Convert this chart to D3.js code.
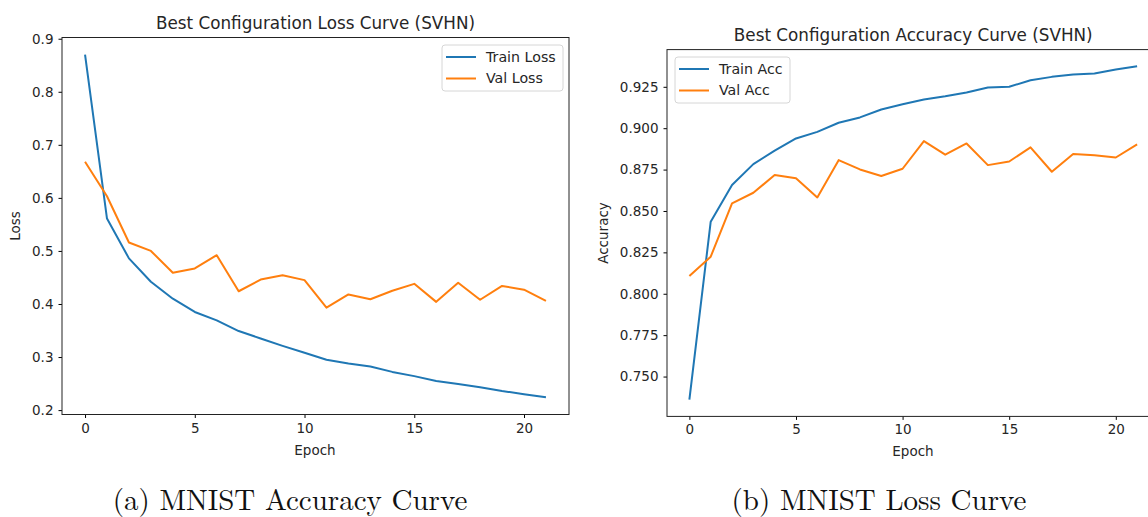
<!DOCTYPE html>
<html lang="en">
<head>
    <meta charset="UTF-8">
    <title>Best Configuration Curves (SVHN)</title>
    <script src="https://cdn.jsdelivr.net/npm/d3@7"></script>
    <style>
        body { margin: 0; background: #fff; }
        svg text { font-family: "DejaVu Sans", sans-serif; fill: #262626; }
        .caption { font-family: "Latin Modern Roman", "DejaVu Serif", "Liberation Serif", serif; fill: #111; }
    </style>
</head>
<body>
    <svg width="1148" height="517" id="mainsvg"></svg>
    <script>
        // data
        const epochs = d3.range(0, 22);
        const trainLoss = [0.870, 0.561, 0.486, 0.442, 0.410, 0.385, 0.369, 0.349, 0.335, 0.321, 0.308,
                           0.295, 0.288, 0.282, 0.272, 0.264, 0.255, 0.249, 0.243, 0.236, 0.230, 0.224];
        const valLoss = [0.668, 0.603, 0.516, 0.500, 0.459, 0.467, 0.492, 0.424, 0.446, 0.454, 0.445,
                         0.393, 0.418, 0.409, 0.425, 0.438, 0.404, 0.440, 0.408, 0.434, 0.427, 0.406];
        const trainAcc = [0.736, 0.8435, 0.8657, 0.8783, 0.8864, 0.8938, 0.8978, 0.9033, 0.9065, 0.9113, 0.9145,
                          0.9173, 0.9193, 0.9216, 0.9246, 0.9250, 0.9290, 0.9310, 0.9324, 0.9330, 0.9354, 0.9374];
        const valAcc = [0.8107, 0.8224, 0.8546, 0.8610, 0.8717, 0.8697, 0.8582, 0.8807, 0.8751, 0.8711, 0.8755,
                        0.8922, 0.8840, 0.8908, 0.8777, 0.8799, 0.8884, 0.8737, 0.8844, 0.8837, 0.8823, 0.8902];
        const xTicks = [0, 5, 10, 15, 20];
        const lossTicks = [0.2, 0.3, 0.4, 0.5, 0.6, 0.7, 0.8, 0.9];
        const accTicks = [0.750, 0.775, 0.800, 0.825, 0.850, 0.875, 0.900, 0.925];

        const blue = '#1f77b4', orange = '#ff7f0e';
        const svg = d3.select('#mainsvg');

        function panel(opt) {
            const g = svg.append('g');
            const x = d3.scaleLinear().domain([-1.05, 22.05]).range([opt.left, opt.right]);
            const ext = d3.extent(opt.series[0].values.concat(opt.series[1].values));
            const pad = (ext[1] - ext[0]) * 0.05;
            const y = d3.scaleLinear().domain([ext[0] - pad, ext[1] + pad]).range([opt.bottom, opt.top]);

            g.append('g')
                .attr('transform', `translate(0,${opt.bottom})`)
                .call(d3.axisBottom(x).tickValues(xTicks).tickSize(3.5).tickPadding(5).tickFormat(d3.format('d')))
                .call(a => a.select('.domain').remove())
                .call(a => a.selectAll('text').attr('font-size', 13.5));

            g.append('g')
                .attr('transform', `translate(${opt.left},0)`)
                .call(d3.axisLeft(y).tickValues(opt.ticks).tickSize(3.5).tickPadding(5).tickFormat(d3.format(opt.fmt)))
                .call(a => a.select('.domain').remove())
                .call(a => a.selectAll('text').attr('font-size', 13.5));

            const line = d3.line().x((d, i) => x(epochs[i])).y(d => y(d));
            opt.series.forEach(s => {
                g.append('path')
                    .attr('d', line(s.values))
                    .attr('fill', 'none')
                    .attr('stroke', s.color)
                    .attr('stroke-width', 2)
                    .attr('stroke-linejoin', 'round');
            });

            g.append('rect')
                .attr('x', opt.left).attr('y', opt.top)
                .attr('width', opt.right - opt.left).attr('height', opt.bottom - opt.top)
                .attr('fill', 'none').attr('stroke', '#222').attr('stroke-width', 1);

            const cx = (opt.left + opt.right) / 2;
            g.append('text').attr('x', cx).attr('y', opt.top - 9)
                .attr('text-anchor', 'middle').attr('font-size', 16.8).text(opt.title);
            g.append('text').attr('x', opt.labelCx).attr('y', opt.bottom + 40)
                .attr('text-anchor', 'middle').attr('font-size', 13.5).text('Epoch');
            g.append('text')
                .attr('transform', `translate(${opt.ylabelX},${(opt.top + opt.bottom) / 2}) rotate(-90)`)
                .attr('text-anchor', 'middle').attr('font-size', 13.5).text(opt.ylabel);

            // legend
            const lg = g.append('g').attr('transform', `translate(${opt.legend[0]},${opt.legend[1]})`);
            lg.append('rect').attr('width', opt.legend[2]).attr('height', 46).attr('rx', 3)
                .attr('fill', 'rgba(255,255,255,0.8)').attr('stroke', '#d6d6d6');
            opt.series.forEach((s, i) => {
                const yy = 12 + i * 21.5;
                lg.append('line').attr('x1', 4).attr('x2', 34).attr('y1', yy).attr('y2', yy)
                    .attr('stroke', s.color).attr('stroke-width', 2);
                lg.append('text').attr('x', 44).attr('y', yy).attr('dy', '0.35em')
                    .attr('font-size', 14.2).text(s.name);
            });
        }

        panel({
            left: 62, right: 569, top: 37.5, bottom: 414.5,
            title: 'Best Configuration Loss Curve (SVHN)',
            ylabel: 'Loss', ylabelX: 20, labelCx: 315, fmt: '.1f', ticks: lossTicks,
            legend: [442, 45, 121],
            series: [{ name: 'Train Loss', values: trainLoss, color: blue },
                     { name: 'Val Loss', values: valLoss, color: orange }]
        });

        panel({
            left: 667, right: 1159.5, top: 49.6, bottom: 416.4,
            title: 'Best Configuration Accuracy Curve (SVHN)',
            ylabel: 'Accuracy', ylabelX: 608, labelCx: 913, fmt: '.3f', ticks: accTicks,
            legend: [675, 57, 115],
            series: [{ name: 'Train Acc', values: trainAcc, color: blue },
                     { name: 'Val Acc', values: valAcc, color: orange }]
        });

        // sub-figure captions
        svg.append('text').attr('class', 'caption').attr('x', 290).attr('y', 510)
            .attr('text-anchor', 'middle').attr('font-size', 29).text('(a) MNIST Accuracy Curve');
        svg.append('text').attr('class', 'caption').attr('x', 879).attr('y', 510)
            .attr('text-anchor', 'middle').attr('font-size', 29).text('(b) MNIST Loss Curve');
    </script>
</body>
</html>
